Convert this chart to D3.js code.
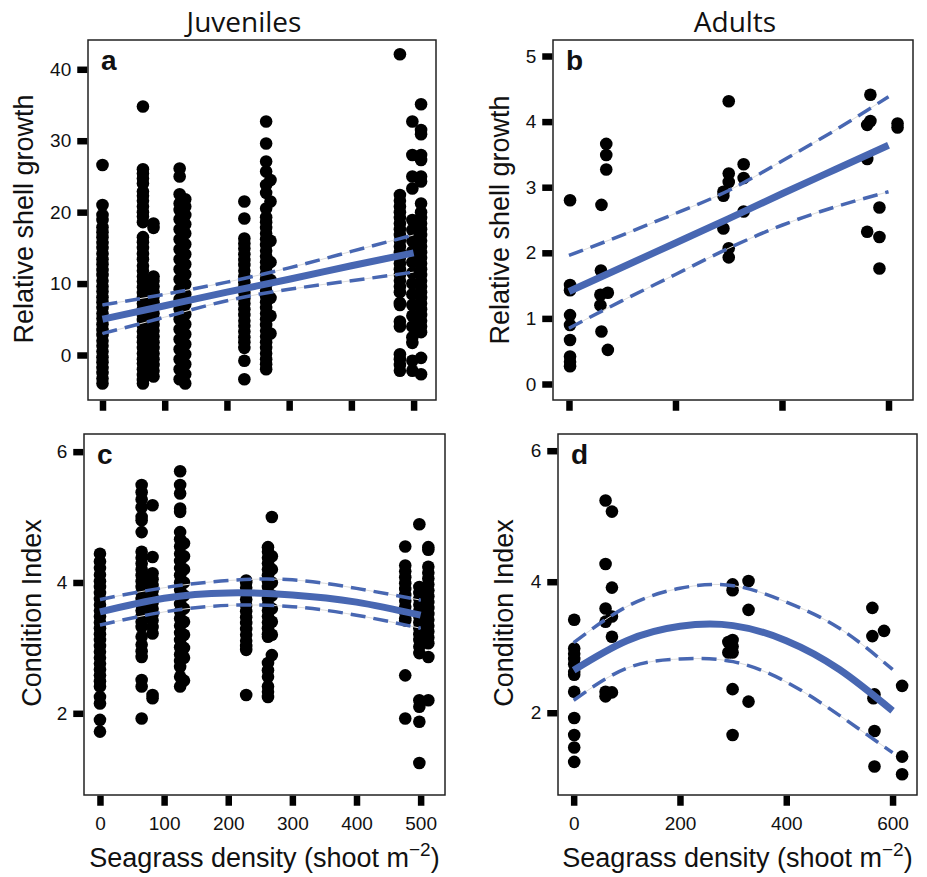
<!DOCTYPE html>
<html><head><meta charset="utf-8">
<script src="https://cdn.jsdelivr.net/npm/d3@7"></script>
<style>
body{margin:0;background:#fff;}
svg{display:block;}
</style></head><body>
<svg id="chart" width="927" height="877"></svg>
<script>
// ---------------- DATA ----------------
// Panel a: juveniles, relative shell growth (per site column)
const juvShellSites = [0, 65, 82, 124, 133, 228, 263, 270, 478, 498, 512];
const juvShellValues = [
  [26.6, 21, 19.6, 18.9, 17.9, 17.2, 16.5, 15.7, 15, 14.2, 13.4, 12.7, 11.9, 11.2, 10.4, 9.6, 8.9, 8.1, 7.4, 6.6, 5.8, 5.1, 4.3, 3.5, 2.8, 2, 1.3, 0.5, -0.3, -1, -1.8, -2.5, -3.3, -4],
  [34.8, 26, 25.4, 24.7, 24, 22.9, 22.3, 21.6, 20.8, 20, 19.4, 18.6, 16.5, 15.8, 15, 14.2, 13.4, 12.5, 11.8, 11, 10.3, 9.5, 8.7, 8, 7.2, 6.4, 5.6, 4.9, 4.1, 3.3, 2.5, 1.8, 1, 0.2, -0.6, -1.2, -2, -2.8, -3.5, -4],
  [18.4, 17.8, 11, 10.4, 9.6, 8.8, 8.2, 7.4, 6.6, 5.8, 5, 4.2, 3.4, 2.6, 1.8, 1, 0.2, -0.6, -1.4, -2.2, -3],
  [26.1, 25, 22.5, 21.2, 20.3, 19, 17.6, 16.2, 14.8, 13.4, 12, 10.6, 9.2, 7.8, 6.4, 5, 3.6, 2.2, 0.8, -0.6, -2, -3.4],
  [21.8, 20.8, 19.6, 18.3, 17, 15.5, 14.1, 12.7, 11.3, 9.9, 8.5, 7.1, 5.7, 4.3, 2.9, 1.5, 0.1, -1.3, -2.7, -4],
  [21.5, 19.1, 16.3, 15.6, 14.9, 14.1, 13.3, 12.6, 11.8, 11, 10.2, 9.5, 8.7, 7.9, 7.2, 6.4, 5.6, 4.8, 4.1, 3.3, 2.5, 1.8, 1, -0.8, -3.4],
  [32.7, 29.6, 27.1, 25.7, 23.8, 22.7, 20.5, 19.3, 18.6, 17.8, 17, 16.2, 15.4, 14.6, 13.8, 13, 12.2, 11.4, 10.6, 9.8, 9, 8.2, 7.4, 6.6, 5.8, 5, 4.2, 3.4, 2.6, 1.8, 1, 0.2, -0.6, -1.3, -2],
  [24.5, 21.5, 16, 13, 10.5, 8, 5.5, 3],
  [42.1, 22.4, 21.6, 20.8, 20, 19.2, 18.4, 17.6, 16.8, 16, 15.2, 14.4, 13.6, 12.8, 12, 11.2, 10.4, 9.6, 8.8, 7.3, 7, 4.7, 4, 0.1, -0.6, -1.4, -2.2],
  [32.7, 28, 25, 23.3, 18.9, 17.5, 16, 14.5, 13, 11.5, 10, 8.5, 7, 5.5, 4, 2.5, 1.7, -0.8, -2.2],
  [35.1, 31.5, 30.9, 28, 27.3, 25, 24.3, 21.2, 20, 19.2, 18.4, 17.6, 16.8, 16, 15.2, 14.4, 13.6, 12.8, 12, 11.2, 10.4, 9.6, 8.8, 8, 7.2, 6.4, 5.6, 4.8, 4, 3.2, -0.4, -2.7]
];
// Panel a fitted line and 95% CI
const juvShellFitX = [0, 100, 200, 300, 400, 500];
const juvShellFit = [5.0, 6.9, 8.8, 10.6, 12.5, 14.3];
const juvShellUpper = [7.0, 8.5, 10.2, 12.2, 14.5, 16.8];
const juvShellLower = [3.0, 5.3, 7.6, 9.2, 10.4, 11.6];

// Panel b: adults, relative shell growth
const adShellX = [2, 2, 2, 2, 2, 2, 2, 2, 2,
  70, 70, 70, 61, 60, 59, 59, 73, 61, 73,
  300, 300, 300, 290, 290, 290, 300, 300,
  328, 328, 328,
  566, 566, 560, 560, 560,
  583, 583, 583,
  617, 617];
const adShellY = [2.80, 1.51, 1.43, 1.05, 0.90, 0.67, 0.42, 0.34, 0.27,
  3.66, 3.49, 3.27, 2.73, 1.73, 1.36, 1.20, 1.39, 0.80, 0.52,
  4.31, 3.21, 3.08, 2.93, 2.87, 2.37, 2.07, 1.93,
  3.35, 3.14, 2.63,
  4.41, 4.01, 3.95, 3.43, 2.32,
  2.69, 2.24, 1.76,
  3.97, 3.91];
const adShellFitX = [0, 100, 200, 300, 400, 500, 600];
const adShellFit = [1.41, 1.78, 2.15, 2.52, 2.90, 3.27, 3.64];
const adShellUpper = [1.96, 2.27, 2.60, 2.95, 3.40, 3.87, 4.38];
const adShellLower = [0.85, 1.27, 1.67, 2.07, 2.42, 2.70, 2.93];

// Panel c: juveniles, condition index
const juvCondSites = [0, 65, 82, 125, 131, 228, 262, 268, 476, 498, 512];
const juvCondValues = [
  [4.44, 4.32, 4.22, 4.12, 4.02, 3.93, 3.84, 3.75, 3.66, 3.57, 3.48, 3.39, 3.3, 3.21, 3.12, 3.03, 2.94, 2.85, 2.76, 2.67, 2.58, 2.49, 2.41, 2.25, 2.15, 1.9, 1.72],
  [5.49, 5.38, 5.27, 5.15, 5.0, 4.95, 4.77, 4.47, 4.38, 4.29, 4.2, 4.11, 4.02, 3.93, 3.84, 3.75, 3.66, 3.57, 3.48, 3.4, 3.32, 3.17, 3.05, 2.95, 2.86, 2.51, 2.41, 1.92],
  [5.18, 4.39, 4.14, 4.05, 3.96, 3.87, 3.78, 3.69, 3.6, 3.51, 3.42, 3.32, 3.22, 2.28, 2.23],
  [5.7, 5.49, 5.36, 5.13, 5.08, 4.77, 4.66, 4.55, 4.44, 4.33, 4.22, 4.11, 4.0, 3.89, 3.78, 3.67, 3.56, 3.45, 3.34, 3.23, 3.12, 3.01, 2.9, 2.8, 2.71, 2.56, 2.41],
  [4.6, 4.4, 4.2, 4.0, 3.8, 3.6, 3.4, 3.2, 3.0, 2.85, 2.5],
  [4.03, 4.0, 3.92, 3.83, 3.74, 3.65, 3.56, 3.47, 3.38, 3.29, 3.2, 3.11, 3.03, 2.97, 2.28],
  [4.54, 4.47, 4.38, 4.29, 4.2, 4.11, 4.02, 3.93, 3.84, 3.75, 3.66, 3.57, 3.48, 3.39, 3.3, 3.21, 3.17, 2.77, 2.66, 2.56, 2.41, 2.33, 2.25],
  [5.0, 4.4, 4.2, 4.0, 3.8, 3.6, 3.4, 3.2, 2.89],
  [4.55, 4.26, 4.17, 4.08, 3.99, 3.9, 3.81, 3.72, 3.63, 3.54, 3.45, 3.42, 2.58, 1.92],
  [4.89, 3.93, 3.84, 3.75, 3.66, 3.57, 3.48, 3.39, 3.3, 3.21, 3.12, 3.02, 2.92, 2.2, 2.1, 1.87, 1.24],
  [4.54, 4.5, 4.24, 4.15, 4.06, 3.97, 3.88, 3.79, 3.7, 3.61, 3.52, 3.43, 3.34, 3.25, 3.16, 3.07, 2.86, 2.2]
];
const juvCondFitX = [0, 100, 200, 300, 400, 500];
const juvCondFit = [3.55, 3.76, 3.84, 3.81, 3.70, 3.50];
const juvCondUpper = [3.74, 3.92, 4.03, 4.04, 3.91, 3.73];
const juvCondLower = [3.35, 3.55, 3.65, 3.63, 3.50, 3.30];

// Panel d: adults, condition index
const adCondX = [1, 1, 1, 1, 1, 1, 1, 1, 1, 1, 1, 1,
  60, 60, 60, 60, 60, 60,
  72, 72, 72, 72, 72,
  299, 299, 299, 299, 299, 299, 299, 291, 291,
  329, 329, 329,
  562, 562, 564, 566, 566, 566,
  584,
  618, 618, 618];
const adCondY = [3.42, 2.98, 2.90, 2.82, 2.74, 2.62, 2.58, 2.32, 1.92, 1.66, 1.47, 1.25,
  5.24, 4.27, 3.59, 3.39, 2.32, 2.25,
  5.07, 3.91, 3.47, 3.16, 2.31,
  3.96, 3.87, 3.11, 3.01, 2.92, 2.36, 1.66, 3.08, 2.92,
  4.01, 3.57, 2.17,
  3.60, 3.17, 2.22, 1.72, 1.18, 2.28,
  3.25,
  2.41, 1.33, 1.06];
const adCondFitX = [0, 100, 200, 300, 400, 500, 600];
const adCondFit = [2.65, 3.10, 3.32, 3.33, 3.10, 2.66, 2.03];
const adCondUpper = [3.07, 3.62, 3.90, 3.94, 3.69, 3.29, 2.66];
const adCondLower = [2.19, 2.68, 2.82, 2.78, 2.47, 1.96, 1.39];

// Tick values
const juvXTicks = [0, 100, 200, 300, 400, 500];
const adXTicks = [0, 200, 400, 600];
const shellJuvYTicks = [0, 10, 20, 30, 40];
const shellAdYTicks = [0, 1, 2, 3, 4, 5];
const condYTicks = [2, 4, 6];

// ---------------- DRAWING ----------------
const BLUE = "#4867b2";
const svg = d3.select("#chart");
const tickFont = "'Liberation Sans', Arial, sans-serif";

function flatten(sites, values) {
  const pts = [];
  sites.forEach((s, i) => values[i].forEach(v => pts.push([s, v])));
  return pts;
}
function zipXY(xs, ys) { return xs.map((x, i) => [x, ys[i]]); }

const panels = [
  { letter: "a", frame: [88, 40, 436, 400], xDom: [-23.3, 536], yDom: [-6.3, 44.1],
    xTicks: juvXTicks, yTicks: shellJuvYTicks, xLabels: false,
    pts: flatten(juvShellSites, juvShellValues),
    fx: juvShellFitX, fit: juvShellFit, up: juvShellUpper, lo: juvShellLower,
    ylab: "Relative shell growth", ylabX: 33, ylabY: 219 },
  { letter: "b", frame: [553, 40, 913, 400], xDom: [-30, 646], yDom: [-0.244, 5.244],
    xTicks: adXTicks, yTicks: shellAdYTicks, xLabels: false,
    pts: zipXY(adShellX, adShellY),
    fx: adShellFitX, fit: adShellFit, up: adShellUpper, lo: adShellLower,
    ylab: "Relative shell growth", ylabX: 509, ylabY: 220 },
  { letter: "c", frame: [84, 434, 445, 795], xDom: [-24.9, 538], yDom: [0.751, 6.27],
    xTicks: juvXTicks, yTicks: condYTicks, xLabels: true,
    pts: flatten(juvCondSites, juvCondValues),
    fx: juvCondFitX, fit: juvCondFit, up: juvCondUpper, lo: juvCondLower,
    ylab: "Condition Index", ylabX: 41, ylabY: 613, xlabX: 264.5 },
  { letter: "d", frame: [558, 434, 917, 795], xDom: [-29.5, 646], yDom: [0.744, 6.255],
    xTicks: adXTicks, yTicks: condYTicks, xLabels: true,
    pts: zipXY(adCondX, adCondY),
    fx: adCondFitX, fit: adCondFit, up: adCondUpper, lo: adCondLower,
    ylab: "Condition Index", ylabX: 513, ylabY: 613, xlabX: 737.5 }
];

panels.forEach(p => {
  const [x0, y0, x1, y1] = p.frame;
  const x = d3.scaleLinear().domain(p.xDom).range([x0, x1]);
  const y = d3.scaleLinear().domain(p.yDom).range([y1, y0]);
  const g = svg.append("g");

  // points
  g.append("g").selectAll("circle").data(p.pts).join("circle")
    .attr("cx", d => x(d[0])).attr("cy", d => y(d[1])).attr("r", 6.3)
    .attr("fill", "#000");

  // lines
  const mk = arr => p.fx.map((v, i) => [v, arr[i]]);
  const line = d3.line().x(d => x(d[0])).y(d => y(d[1])).curve(d3.curveNatural);
  [p.up, p.lo].forEach(arr => {
    g.append("path").attr("d", line(mk(arr))).attr("fill", "none")
      .attr("stroke", "#dcdcdc").attr("stroke-width", 1);
  });
  [p.up, p.lo].forEach(arr => {
    g.append("path").attr("d", line(mk(arr))).attr("fill", "none")
      .attr("stroke", BLUE).attr("stroke-width", 3.5)
      .attr("stroke-dasharray", "15 8");
  });
  g.append("path").attr("d", line(mk(p.fit))).attr("fill", "none")
    .attr("stroke", BLUE).attr("stroke-width", 7);

  // frame
  g.append("rect").attr("x", x0).attr("y", y0).attr("width", x1 - x0).attr("height", y1 - y0)
    .attr("fill", "none").attr("stroke", "#222").attr("stroke-width", 1.5);

  // axes
  const ax = d3.axisBottom(x).tickValues(p.xTicks).tickSize(10).tickPadding(11)
    .tickFormat(p.xLabels ? d3.format("d") : () => "");
  const gx = g.append("g").attr("transform", `translate(0,${y1 + 0.75})`).call(ax);
  const ay = d3.axisLeft(y).tickValues(p.yTicks).tickSize(10).tickPadding(6).tickFormat(d3.format("d"));
  const gy = g.append("g").attr("transform", `translate(${x0 - 0.75},0)`).call(ay);
  [gx, gy].forEach(ga => {
    ga.select(".domain").remove();
    ga.selectAll(".tick line").attr("stroke", "#000").attr("stroke-width", 6.5);
    ga.selectAll(".tick text").attr("fill", "#111").style("font-family", tickFont).style("font-size", "19px");
  });

  // panel letter
  g.append("text").attr("x", x0 + 13)
    .attr("y", y0 + 30).text(p.letter)
    .style("font-family", tickFont).style("font-weight", "bold").style("font-size", "28px").attr("fill", "#111");

  // y label
  g.append("text").attr("transform", `translate(${p.ylabX},${p.ylabY}) rotate(-90)`)
    .attr("text-anchor", "middle").text(p.ylab)
    .style("font-family", tickFont).style("font-size", "27px").attr("fill", "#111");

  // x label
  if (p.xlabX) {
    const t = g.append("text").attr("x", p.xlabX).attr("y", 867).attr("text-anchor", "middle")
      .style("font-family", tickFont).style("font-size", "27px").attr("fill", "#111");
    t.append("tspan").text("Seagrass density (shoot m");
    t.append("tspan").attr("dy", -11).style("font-size", "19px").text("\u22122");
    t.append("tspan").attr("dy", 11).text(")");
  }
});

// column titles
svg.append("text").attr("x", 244).attr("y", 32).attr("text-anchor", "middle").text("Juveniles")
  .style("font-family", "'Open Sans', sans-serif").style("font-size", "28px").attr("fill", "#111");
svg.append("text").attr("x", 735).attr("y", 32).attr("text-anchor", "middle").text("Adults")
  .style("font-family", "'Open Sans', sans-serif").style("font-size", "28px").attr("fill", "#111");
</script>
</body></html>
